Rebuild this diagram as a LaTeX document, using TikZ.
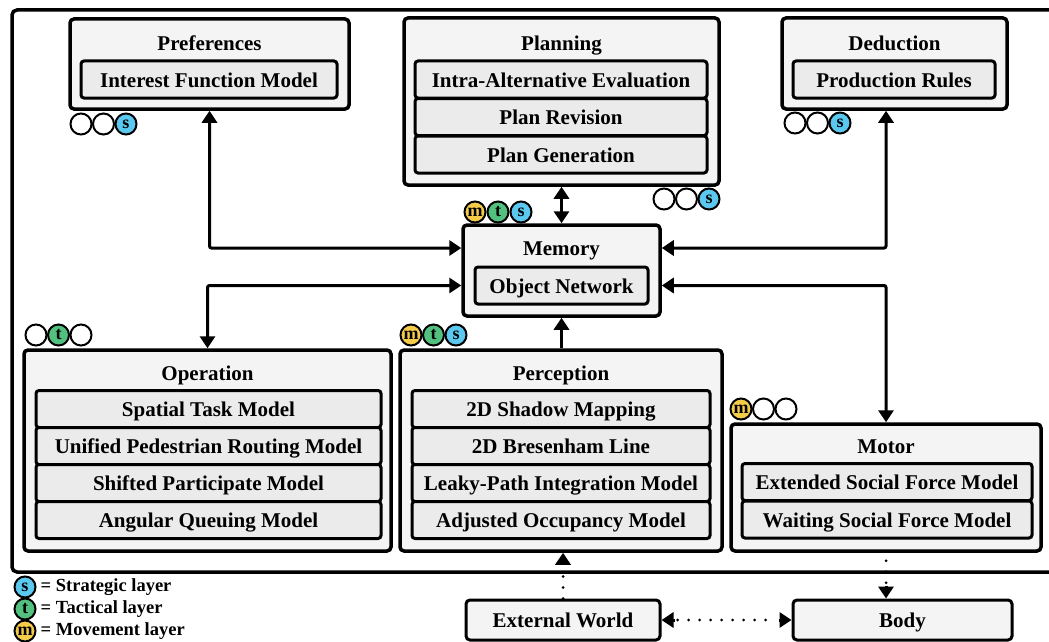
\documentclass[tikz,border=0pt]{standalone}
\usepackage{fontspec}
\setmainfont{Liberation Serif}
\usepackage{tikz}
\usetikzlibrary{arrows.meta}
\usetikzlibrary{calc}
\definecolor{sblue}{HTML}{5BC8F0}
\definecolor{tgreen}{HTML}{52C07F}
\definecolor{myellow}{HTML}{F5CB4A}
\definecolor{boxfill}{HTML}{F4F4F4}
\definecolor{modfill}{HTML}{EBEBEB}
\tikzset{
	module/.style={draw,line width=3.5pt,rounded corners=4pt,fill=boxfill,inner sep=0pt},
	submodel/.style={draw,line width=3pt,rounded corners=3pt,fill=modfill,inner sep=0pt,
		font=\fontsize{21}{23}\selectfont\bfseries,text height=16pt,text depth=1pt},
	modtitle/.style={font=\fontsize{21}{23}\selectfont\bfseries,inner sep=0pt,text height=16pt,text depth=1pt},
	layer/.style={circle,draw,line width=2pt,minimum size=21pt,inner sep=0pt,
		font=\fontsize{18}{18}\selectfont\bfseries},
	keytext/.style={anchor=west,font=\fontsize{18.5}{19}\selectfont\bfseries,inner sep=0pt},
	link/.style={line width=3pt,rounded corners=2pt,{Triangle[width=15pt,length=12pt]}-{Triangle[width=15pt,length=12pt]}},
	onelink/.style={line width=3pt,-{Triangle[width=15pt,length=12pt]}},
	worldlink/.style={line width=3pt,line cap=round,dash pattern=on 0pt off 11pt}
}
\begin{document}
\begin{tikzpicture}[x=1pt,y=-1pt]
				\useasboundingbox (0,0) rectangle (1049,642);
				\fill[white] (0,0) rectangle (1049,642);
				% frame of the agent
				\draw[line width=3.5pt,rounded corners=5pt] (12,10) rectangle (1070,572);
				% preferences
				\node[module,minimum width=279pt,minimum height=90pt] (pref) at (209.5,64) {};
				\node[modtitle] (preft) at (209.5,43) {Preferences};
				\node[submodel,minimum width=256pt,minimum height=37pt] (ifm) at (209,79.5) {Interest Function Model};
				% planning
				\node[module,minimum width=315pt,minimum height=167pt] (plan) at (561.5,101.5) {};
				\node[modtitle] (plant) at (561.5,43) {Planning};
				\node[submodel,minimum width=292pt,minimum height=37pt] (iae) at (561,79.5) {Intra-Alternative Evaluation};
				\node[submodel,minimum width=292pt,minimum height=37pt] (prev) at (561,117) {Plan Revision};
				\node[submodel,minimum width=292pt,minimum height=37pt] (pgen) at (561,154.5) {Plan Generation};
				% deduction
				\node[module,minimum width=225pt,minimum height=91pt] (ded) at (894.5,63.5) {};
				\node[modtitle] (dedt) at (894.5,43) {Deduction};
				\node[submodel,minimum width=202pt,minimum height=37pt] (prod) at (894,79.5) {Production Rules};
				% memory
				\node[module,minimum width=197pt,minimum height=91pt] (mem) at (561.5,270.5) {};
				\node[modtitle] (memt) at (561.5,248) {Memory};
				\node[submodel,minimum width=173pt,minimum height=37pt] (obj) at (561.5,285.5) {Object Network};
				% operation
				\node[module,minimum width=367pt,minimum height=201pt] (op) at (207.5,450.5) {};
				\node[modtitle] (opt) at (207.5,373) {Operation};
				\node[submodel,minimum width=345pt,minimum height=37pt] (stm) at (208.5,409) {Spatial Task Model};
				\node[submodel,minimum width=345pt,minimum height=37pt] (uprm) at (208.5,446) {Unified Pedestrian Routing Model};
				\node[submodel,minimum width=345pt,minimum height=37pt] (spm) at (208.5,483) {Shifted Participate Model};
				\node[submodel,minimum width=345pt,minimum height=37pt] (aqm) at (208.5,520) {Angular Queuing Model};
				% perception
				\node[module,minimum width=322pt,minimum height=201pt] (perc) at (561,450.5) {};
				\node[modtitle] (perct) at (561,373) {Perception};
				\node[submodel,minimum width=298pt,minimum height=37pt] (shadow) at (561,409) {2D Shadow Mapping};
				\node[submodel,minimum width=298pt,minimum height=37pt] (bres) at (561,446) {2D Bresenham Line};
				\node[submodel,minimum width=298pt,minimum height=37pt] (leaky) at (561,483) {Leaky-Path Integration Model};
				\node[submodel,minimum width=298pt,minimum height=37pt] (occ) at (561,520) {Adjusted Occupancy Model};
				% motor
				\node[module,minimum width=310pt,minimum height=127pt] (motor) at (886,487.5) {};
				\node[modtitle] (motort) at (886,446) {Motor};
				\node[submodel,minimum width=290pt,minimum height=37pt] (esfm) at (887,482) {Extended Social Force Model};
				\node[submodel,minimum width=290pt,minimum height=37pt] (wsfm) at (887,519.5) {Waiting Social Force Model};
				% outside the agent
				\node[module,line width=3pt,minimum width=194pt,minimum height=40pt,modtitle] (world) at (563,620) {External World};
				\node[module,line width=3pt,minimum width=219pt,minimum height=40pt,modtitle] (body) at (902.5,620) {Body};
				% layer marks
				\node[layer,fill=white] (pref1) at (81,124) {};
				\node[layer,fill=white] (pref2) at (103.5,124) {};
				\node[layer,fill=sblue] (pref3) at (126,124) {s};
				\node[layer,fill=white] (plan1) at (664,199) {};
				\node[layer,fill=white] (plan2) at (686.5,199) {};
				\node[layer,fill=sblue] (plan3) at (709,199) {s};
				\node[layer,fill=white] (ded1) at (795,123) {};
				\node[layer,fill=white] (ded2) at (817.5,123) {};
				\node[layer,fill=sblue] (ded3) at (840,123) {s};
				\node[layer,fill=myellow] (mem1) at (475,212) {m};
				\node[layer,fill=tgreen] (mem2) at (498,212) {t};
				\node[layer,fill=sblue] (mem3) at (521,212) {s};
				\node[layer,fill=white] (op1) at (36,335) {};
				\node[layer,fill=tgreen] (op2) at (58.5,335) {t};
				\node[layer,fill=white] (op3) at (81,335) {};
				\node[layer,fill=myellow] (perc1) at (411,335) {m};
				\node[layer,fill=tgreen] (perc2) at (433.5,335) {t};
				\node[layer,fill=sblue] (perc3) at (456,335) {s};
				\node[layer,fill=myellow] (motor1) at (741,409) {m};
				\node[layer,fill=white] (motor2) at (763.5,409) {};
				\node[layer,fill=white] (motor3) at (786,409) {};
				% connections
				\draw[link] (pref.south) |- (mem.west |- memt);
				\draw[link] (ded.south -| motor.north) |- (mem.east |- memt);
				\draw[link] (plan.south) -- (mem.north);
				\draw[link] (op.north) |- (mem.west |- obj);
				\draw[link] (mem.east |- obj) -| (motor.north);
				\draw[onelink] (perc.north -| mem.south) -- (mem.south);
				\draw[worldlink] (world.north) -- ($(perc.south -| world.north)+(0,14)$);
				\draw[onelink] ($(perc.south -| world.north)+(0,12)$) -- (perc.south -| world.north);
				\draw[worldlink] ($(motor.south)+(0,8)$) -- ($(body.north -| motor.south)+(0,-14)$);
				\draw[onelink] ($(body.north -| motor.south)+(0,-13)$) -- (body.north -| motor.south);
				\draw[worldlink] ($(world.east)+(16,0)$) -- ($(body.west)+(-16,0)$);
				\draw[onelink] ($(world.east)+(13,0)$) -- (world.east);
				\draw[onelink] ($(body.west)+(-13,0)$) -- (body.west);
				% legend
				\node[layer,fill=sblue] (keys) at (25,587) {s};
				\node[layer,fill=tgreen] (keyt) at (25,609) {t};
				\node[layer,fill=myellow] (keym) at (25,631) {m};
				\node[keytext] (keyst) at ($(keys.east)+(4,0)$) {= Strategic layer};
				\node[keytext] (keytt) at ($(keyt.east)+(4,0)$) {= Tactical layer};
				\node[keytext] (keymt) at ($(keym.east)+(4,0)$) {= Movement layer};
			\end{tikzpicture}
\end{document}
